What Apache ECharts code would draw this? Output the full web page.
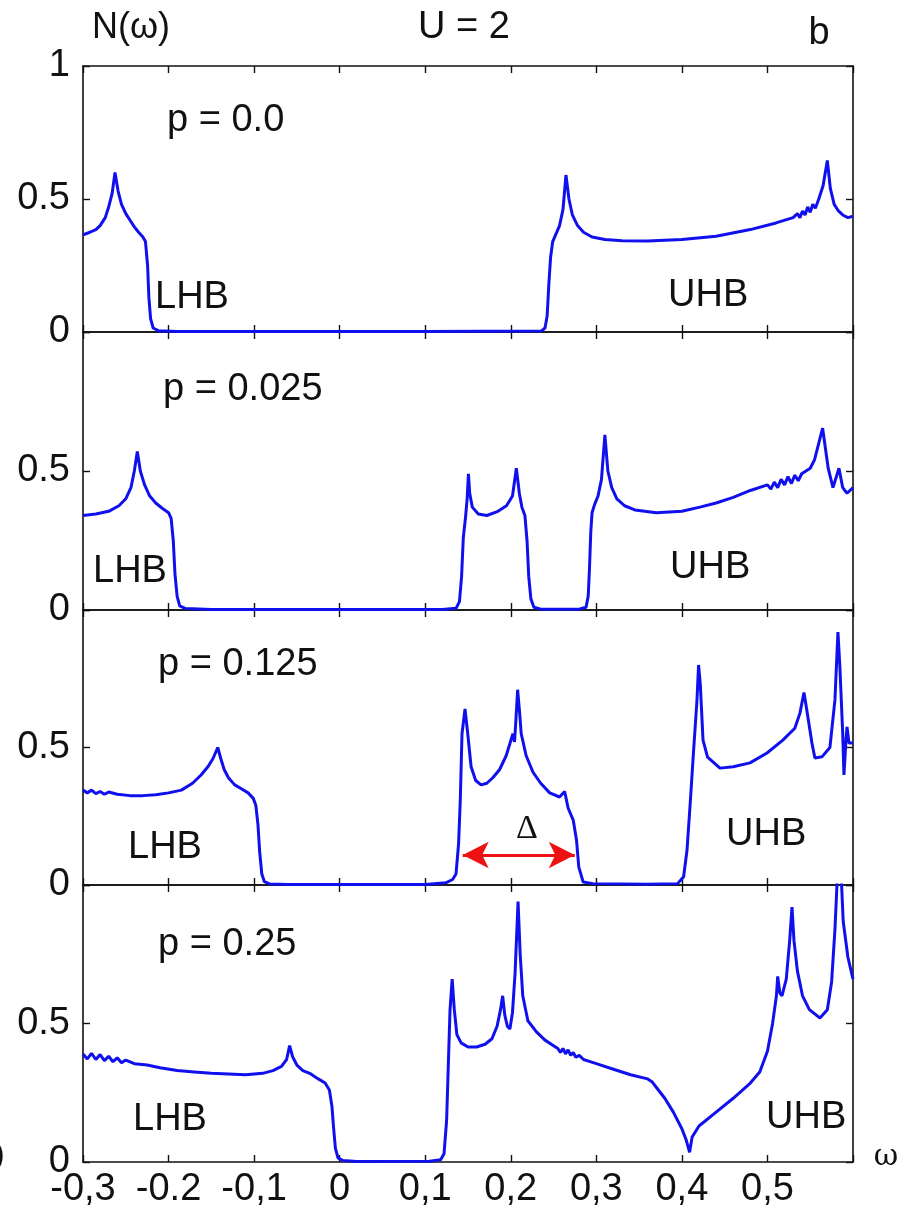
<!DOCTYPE html>
<html>
<head>
<meta charset="utf-8">
<style>
  html, body { margin: 0; padding: 0; background: #fff; }
  #chart { width: 905px; height: 1219px; }
</style>
<script src="https://cdn.jsdelivr.net/npm/echarts@6/dist/echarts.min.js"></script>
</head>
<body>
<div id="chart"></div>
<script>
// tick labels as printed (mixed comma / point, as in the figure)
var xTickLabels = ['-0,3', '-0.2', '-0,1', '0', '0,1', '0,2', '0,3', '0,4', '0,5', ''];
var panelNames = ['p = 0.0', 'p = 0.025', 'p = 0.125', 'p = 0.25'];

// N(w), [omega, N]
var dosP0 = [
    [-0.300, 0.365], [-0.292, 0.375], [-0.285, 0.385], [-0.280, 0.40], [-0.274, 0.43], [-0.270, 0.47],
    [-0.266, 0.52], [-0.2626, 0.60], [-0.259, 0.53], [-0.255, 0.48], [-0.250, 0.445], [-0.245, 0.42],
    [-0.240, 0.395], [-0.235, 0.375], [-0.230, 0.357], [-0.227, 0.34], [-0.2245, 0.25], [-0.223, 0.13],
    [-0.221, 0.05], [-0.218, 0.015], [-0.212, 0.005], [-0.190, 0.002], [0.100, 0.002], [0.236, 0.004],
    [0.240, 0.015], [0.2425, 0.06], [0.2445, 0.18], [0.2465, 0.28], [0.249, 0.34], [0.253, 0.37],
    [0.257, 0.40], [0.261, 0.46], [0.2645, 0.59], [0.268, 0.50], [0.272, 0.44], [0.278, 0.40],
    [0.285, 0.375], [0.295, 0.357], [0.310, 0.348], [0.330, 0.343], [0.360, 0.342], [0.400, 0.348],
    [0.440, 0.36], [0.480, 0.385], [0.510, 0.41], [0.530, 0.43], [0.535, 0.445], [0.538, 0.43],
    [0.541, 0.455], [0.544, 0.44], [0.547, 0.47], [0.550, 0.45], [0.553, 0.48], [0.556, 0.465],
    [0.560, 0.50], [0.565, 0.55], [0.570, 0.645], [0.5735, 0.54], [0.578, 0.48], [0.583, 0.455],
    [0.588, 0.44], [0.594, 0.43], [0.600, 0.435]
];
var dosP025 = [
    [-0.300, 0.34], [-0.285, 0.345], [-0.270, 0.355], [-0.258, 0.375], [-0.250, 0.40], [-0.244, 0.44],
    [-0.240, 0.50], [-0.2365, 0.57], [-0.233, 0.50], [-0.228, 0.45], [-0.222, 0.41], [-0.215, 0.385],
    [-0.207, 0.365], [-0.200, 0.35], [-0.197, 0.33], [-0.1945, 0.25], [-0.1925, 0.13], [-0.190, 0.05],
    [-0.187, 0.015], [-0.180, 0.005], [-0.150, 0.002], [0.120, 0.002], [0.136, 0.006], [0.140, 0.03],
    [0.1425, 0.12], [0.1445, 0.26], [0.147, 0.33], [0.149, 0.40], [0.1505, 0.49], [0.152, 0.42],
    [0.155, 0.37], [0.162, 0.345], [0.172, 0.34], [0.185, 0.355], [0.195, 0.375], [0.202, 0.41],
    [0.2065, 0.51], [0.210, 0.42], [0.213, 0.37], [0.2165, 0.34], [0.219, 0.25], [0.221, 0.12],
    [0.2235, 0.04], [0.227, 0.01], [0.235, 0.003], [0.280, 0.003], [0.288, 0.01], [0.2905, 0.05],
    [0.292, 0.15], [0.2935, 0.28], [0.295, 0.35], [0.298, 0.38], [0.302, 0.41], [0.306, 0.47],
    [0.310, 0.63], [0.3135, 0.50], [0.318, 0.44], [0.324, 0.40], [0.333, 0.375], [0.345, 0.36],
    [0.370, 0.35], [0.400, 0.355], [0.421, 0.37], [0.440, 0.385], [0.460, 0.405], [0.480, 0.43],
    [0.500, 0.45], [0.504, 0.435], [0.508, 0.46], [0.512, 0.44], [0.516, 0.47], [0.520, 0.45],
    [0.524, 0.48], [0.528, 0.455], [0.532, 0.485], [0.536, 0.465], [0.540, 0.49], [0.545, 0.50],
    [0.550, 0.51], [0.555, 0.54], [0.5645, 0.654], [0.571, 0.51], [0.5766, 0.44], [0.5836, 0.51],
    [0.588, 0.44], [0.593, 0.42], [0.600, 0.44]
];
var dosP125 = [
    [-0.300, 0.345], [-0.295, 0.335], [-0.290, 0.345], [-0.285, 0.332], [-0.280, 0.34], [-0.275, 0.33],
    [-0.270, 0.338], [-0.260, 0.33], [-0.245, 0.325], [-0.230, 0.325], [-0.215, 0.328], [-0.200, 0.335],
    [-0.185, 0.345], [-0.172, 0.37], [-0.162, 0.40], [-0.154, 0.43], [-0.148, 0.46], [-0.1425, 0.50],
    [-0.139, 0.46], [-0.135, 0.42], [-0.130, 0.39], [-0.123, 0.365], [-0.115, 0.35], [-0.107, 0.335],
    [-0.101, 0.315], [-0.098, 0.29], [-0.0955, 0.22], [-0.0935, 0.12], [-0.091, 0.04], [-0.088, 0.012],
    [-0.082, 0.004], [-0.060, 0.002], [0.100, 0.002], [0.124, 0.008], [0.132, 0.02], [0.136, 0.04],
    [0.139, 0.15], [0.141, 0.31], [0.143, 0.55], [0.1465, 0.64], [0.1497, 0.55], [0.1536, 0.43],
    [0.159, 0.38], [0.1653, 0.364], [0.172, 0.37], [0.179, 0.39], [0.187, 0.42], [0.1946, 0.47],
    [0.2005, 0.53], [0.2025, 0.55], [0.2044, 0.52], [0.206, 0.60], [0.208, 0.71], [0.2105, 0.62],
    [0.2122, 0.55], [0.218, 0.47], [0.226, 0.41], [0.235, 0.37], [0.2455, 0.335], [0.257, 0.32],
    [0.263, 0.34], [0.267, 0.28], [0.273, 0.236], [0.2768, 0.164], [0.2795, 0.065], [0.2846, 0.011],
    [0.296, 0.005], [0.360, 0.003], [0.395, 0.005], [0.402, 0.03], [0.406, 0.127], [0.410, 0.31],
    [0.4137, 0.49], [0.4176, 0.67], [0.4195, 0.80], [0.4215, 0.73], [0.4247, 0.527], [0.430, 0.465],
    [0.4445, 0.425], [0.460, 0.43], [0.4796, 0.444], [0.4995, 0.48], [0.518, 0.527], [0.532, 0.57],
    [0.538, 0.625], [0.5427, 0.70], [0.546, 0.636], [0.552, 0.516], [0.5555, 0.462], [0.5637, 0.466],
    [0.573, 0.50], [0.5789, 0.673], [0.5824, 0.92], [0.5847, 0.79], [0.588, 0.55], [0.5894, 0.40],
    [0.5918, 0.527], [0.593, 0.575], [0.5953, 0.516], [0.600, 0.516]
];
var dosP25 = [
    [-0.300, 0.39], [-0.295, 0.372], [-0.290, 0.392], [-0.285, 0.37], [-0.280, 0.388], [-0.275, 0.366],
    [-0.270, 0.382], [-0.265, 0.362], [-0.260, 0.376], [-0.255, 0.358], [-0.250, 0.368], [-0.240, 0.355],
    [-0.225, 0.35], [-0.210, 0.34], [-0.190, 0.33], [-0.170, 0.325], [-0.150, 0.32], [-0.130, 0.318],
    [-0.110, 0.315], [-0.090, 0.32], [-0.078, 0.33], [-0.068, 0.345], [-0.062, 0.37], [-0.0585, 0.42],
    [-0.055, 0.38], [-0.050, 0.35], [-0.043, 0.33], [-0.035, 0.32], [-0.025, 0.30], [-0.017, 0.285],
    [-0.012, 0.26], [-0.009, 0.20], [-0.007, 0.12], [-0.005, 0.05], [-0.002, 0.015], [0.004, 0.005],
    [0.020, 0.002], [0.105, 0.003], [0.118, 0.008], [0.122, 0.03], [0.125, 0.15], [0.127, 0.35],
    [0.129, 0.55], [0.1315, 0.66], [0.134, 0.55], [0.137, 0.46], [0.142, 0.43], [0.150, 0.415],
    [0.160, 0.415], [0.170, 0.425], [0.178, 0.445], [0.184, 0.49], [0.188, 0.55], [0.1905, 0.60],
    [0.193, 0.53], [0.196, 0.49], [0.199, 0.48], [0.202, 0.54], [0.205, 0.68], [0.2085, 0.94],
    [0.211, 0.75], [0.214, 0.60], [0.220, 0.51], [0.230, 0.47], [0.240, 0.44], [0.250, 0.42],
    [0.255, 0.41], [0.258, 0.395], [0.261, 0.41], [0.264, 0.39], [0.267, 0.405], [0.270, 0.385],
    [0.273, 0.395], [0.276, 0.378], [0.280, 0.385], [0.285, 0.37], [0.290, 0.365], [0.300, 0.355],
    [0.320, 0.335], [0.340, 0.315], [0.360, 0.30], [0.365, 0.29], [0.370, 0.27], [0.380, 0.23],
    [0.390, 0.18], [0.400, 0.12], [0.405, 0.08], [0.409, 0.035], [0.412, 0.09], [0.420, 0.13],
    [0.440, 0.18], [0.460, 0.23], [0.480, 0.285], [0.491, 0.325], [0.500, 0.40], [0.506, 0.50],
    [0.5105, 0.60], [0.512, 0.67], [0.5145, 0.61], [0.517, 0.60], [0.522, 0.66], [0.526, 0.80],
    [0.5287, 0.92], [0.531, 0.80], [0.535, 0.69], [0.541, 0.60], [0.549, 0.55], [0.5614, 0.52],
    [0.570, 0.55], [0.575, 0.65], [0.5789, 0.84], [0.582, 1.05], [0.586, 1.05], [0.5885, 0.87],
    [0.594, 0.74], [0.600, 0.66]
];
var panelData = [dosP0, dosP025, dosP125, dosP25];

// gap width arrow in the p = 0.125 panel, data coordinates
var deltaFrom = [0.1438, 0.109];
var deltaTo = [0.2748, 0.109];

(function() {
    var chart = echarts.init(document.getElementById('chart'), null, { renderer: 'canvas' });
    var ink = '#111';
    var blue = '#1010ee';
    var font = '"Liberation Sans", Arial, sans-serif';

    var grids = [
        { left: 83, width: 770, top: 66, height: 266 },
        { left: 83, width: 770, top: 332, height: 278 },
        { left: 83, width: 770, top: 610, height: 275 },
        { left: 83, width: 770, top: 885, height: 277 }
    ];

    var axisLine = { show: true, onZero: false, lineStyle: { color: ink, width: 1.6 } };
    var tick = { show: true, inside: true, length: 7, lineStyle: { color: ink, width: 1.4 } };

    var xAxes = [], yAxes = [], series = [];
    grids.forEach(function(g, i) {
        var last = i === grids.length - 1;
        xAxes.push({
            gridIndex: i, type: 'value', position: 'bottom', min: -0.3, max: 0.6, interval: 0.1,
            axisLine: axisLine, axisTick: tick, splitLine: { show: false },
            axisLabel: {
                show: last, color: ink, fontFamily: font, fontSize: 38, margin: 9,
                showMinLabel: true, showMaxLabel: true,
                formatter: function(v) { return xTickLabels[Math.round((v + 0.3) * 10)] || ''; }
            }
        });
        xAxes.push({
            gridIndex: i, type: 'value', position: 'top', min: -0.3, max: 0.6, interval: 0.1,
            axisLine: axisLine, axisTick: tick, splitLine: { show: false }, axisLabel: { show: false }
        });
        yAxes.push({
            gridIndex: i, type: 'value', position: 'left', min: 0, max: 1, interval: 0.5,
            axisLine: axisLine, axisTick: tick, splitLine: { show: false },
            axisLabel: {
                color: ink, fontFamily: font, fontSize: 38, margin: 13,
                showMinLabel: true, showMaxLabel: true,
                formatter: function(v) {
                    if (v === 1 && i > 0) return '';
                    return v === 0.5 ? '0.5' : String(v);
                }
            }
        });
        yAxes.push({
            gridIndex: i, type: 'value', position: 'right', min: 0, max: 1, interval: 0.5,
            axisLine: axisLine, axisTick: tick, splitLine: { show: false }, axisLabel: { show: false }
        });
        var s = {
            type: 'line', name: panelNames[i], xAxisIndex: 2 * i, yAxisIndex: 2 * i,
            data: panelData[i], showSymbol: false, clip: true, animation: false,
            lineStyle: { color: blue, width: 3 }
        };
        if (i === 2) {
            s.markLine = {
                silent: true, animation: false,
                symbol: ['arrow', 'arrow'], symbolSize: [20, 26],
                label: { show: false },
                lineStyle: { color: '#ee1111', width: 3, type: 'solid' },
                data: [[{ coord: deltaFrom }, { coord: deltaTo }]]
            };
        }
        series.push(s);
    });

    function txt(x, y, text, size, extra) {
        var st = { text: text, x: 0, y: 0, fill: ink, font: size + 'px ' + font, align: 'left', verticalAlign: 'middle' };
        if (extra) for (var k in extra) st[k] = extra[k];
        return { type: 'text', x: x, y: y, style: st, silent: true };
    }

    var graphics = [
        txt(92, 28, 'N(\u03c9)', 36),
        txt(464, 28, 'U = 2', 38, { align: 'center' }),
        txt(819, 34, 'b', 38, { align: 'center' }),
        txt(167, 121, panelNames[0], 38),
        txt(163, 390, panelNames[1], 38),
        txt(158, 665, panelNames[2], 38),
        txt(158, 945, panelNames[3], 38),
        txt(155, 298, 'LHB', 38),
        txt(668, 296, 'UHB', 38),
        txt(93, 572, 'LHB', 38),
        txt(670, 568, 'UHB', 38),
        txt(128, 848, 'LHB', 38),
        txt(726, 835, 'UHB', 38),
        txt(133, 1120, 'LHB', 38),
        txt(766, 1118, 'UHB', 38),
        txt(527, 829, '\u0394', 34, { align: 'center', font: '34px "Liberation Serif", "DejaVu Serif", serif' }),
        txt(886, 1157, '\u03c9', 30, { align: 'center', font: '30px "DejaVu Serif", serif' }),
        txt(-6, 1155, ')', 32)
    ];

    chart.setOption({
        backgroundColor: '#fff',
        animation: false,
        grid: grids,
        xAxis: xAxes,
        yAxis: yAxes,
        series: series,
        graphic: graphics
    });

    window.addEventListener('resize', function() { chart.resize(); });
})();
</script>
</body>
</html>
